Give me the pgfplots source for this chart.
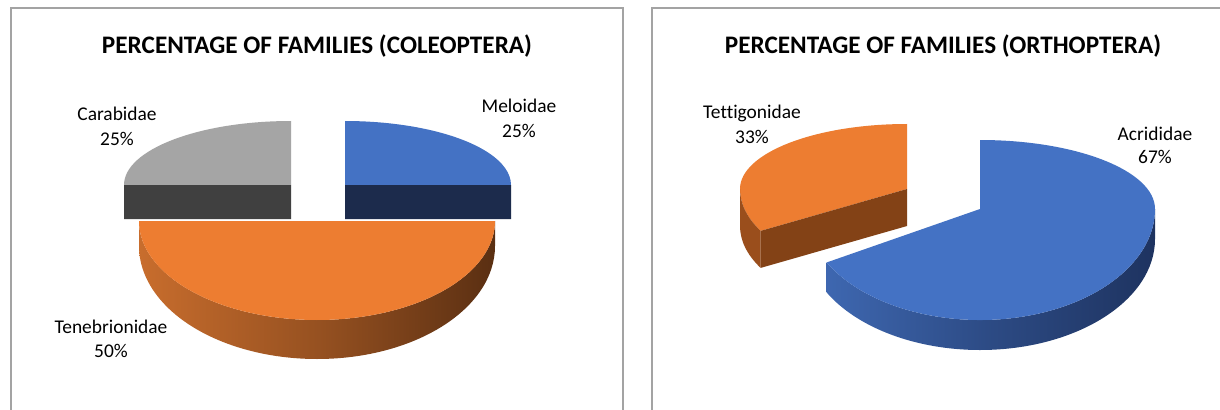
\documentclass[border=0pt]{standalone}
\usepackage{pgfplots}
\pgfplotsset{compat=1.18}
\usepackage{pgfplotstable}
\usepackage{fontspec}
\setmainfont{Carlito}[Ligatures={NoCommon}]

% ---------- data (percent shares) ----------
\pgfplotstableread{
family value
Meloidae 25
Tenebrionidae 50
Carabidae 25
}\coleoptera
\pgfplotstableread{
family value
Acrididae 67
Tettigonidae 33
}\orthoptera

\definecolor{pieblue}{HTML}{4472C4}
\definecolor{pieorange}{HTML}{ED7D31}
\definecolor{piegray}{HTML}{A5A5A5}
\definecolor{cutgray}{HTML}{404040}
\definecolor{cutnavy}{HTML}{1C2B4C}
\definecolor{cutbrown}{HTML}{834216}
\definecolor{sidebrown}{HTML}{9A4E1C}
\definecolor{orsideL}{HTML}{C86D2D}
\definecolor{orsideR}{HTML}{5A2F12}
\definecolor{blsideL}{HTML}{3E67B0}
\definecolor{blsideR}{HTML}{1E3360}
\definecolor{frame}{HTML}{A3A3A3}

\begin{document}
\begin{tikzpicture}
% angles (Excel style: first slice starts at 12 o'clock, clockwise)
\pgfplotstablegetelem{0}{value}\of\coleoptera \pgfmathsetmacro\cA{\pgfplotsretval}
\pgfplotstablegetelem{1}{value}\of\coleoptera \pgfmathsetmacro\cB{\pgfplotsretval}
\pgfplotstablegetelem{2}{value}\of\coleoptera \pgfmathsetmacro\cC{\pgfplotsretval}
\pgfplotstablegetelem{0}{value}\of\orthoptera \pgfmathsetmacro\oA{\pgfplotsretval}
\pgfplotstablegetelem{1}{value}\of\orthoptera \pgfmathsetmacro\oB{\pgfplotsretval}
\pgfmathsetmacro\melS{90-3.6*\cA}          % Meloidae: melS .. 90
\pgfmathsetmacro\tenS{90-3.6*(\cA+\cB)+360} % Tenebrionidae: tenS .. melS+360
\pgfmathsetmacro\tenE{\melS+360}
\pgfmathsetmacro\carS{\tenS}               % Carabidae: 90 .. carS
\pgfmathsetmacro\acrS{90-3.6*\oA+360}      % Acrididae: acrS .. 450 ; Tettigonidae: 90 .. acrS
\begin{axis}[x=1bp,y=1bp,xmin=0,xmax=1220,ymin=0,ymax=409,
  hide axis,scale only axis,clip=true]
\fill[white] (axis cs:0,0) rectangle (axis cs:1220,409);
% frames
\draw[frame,line width=1.4bp] (axis cs:11,-5) -- (axis cs:11,401) -- (axis cs:623,401) -- (axis cs:623,-5);
\draw[frame,line width=1.4bp] (axis cs:652,-5) -- (axis cs:652,401) -- (axis cs:1234,401) -- (axis cs:1234,-5);
% titles
\node[anchor=base,font=\bfseries\fontsize{25.3}{30}\selectfont] at (axis cs:317,356) {PERCENTAGE OF FAMILIES (COLEOPTERA)};
\node[anchor=base,font=\bfseries\fontsize{25.3}{30}\selectfont] at (axis cs:943,356) {PERCENTAGE OF FAMILIES (ORTHOPTERA)};

% ===== Coleoptera =====
% Carabidae (back left, exploded)
\fill[piegray] (axis cs:291,224) -- ++(\carS:167bp and 64bp) arc[start angle=\carS,end angle=90,x radius=167bp,y radius=64bp] -- cycle;
\fill[cutgray] (axis cs:291,224) -- ++(\carS:167bp and 64bp) -- ++(0,-34bp) -- (axis cs:291,190) -- cycle;
% Meloidae (back right, exploded)
\fill[pieblue] (axis cs:345,224) -- ++(\melS:166bp and 64bp) arc[start angle=\melS,end angle=90,x radius=166bp,y radius=64bp] -- cycle;
\fill[cutnavy] (axis cs:345,224) -- ++(\melS:166bp and 64bp) -- ++(0,-34bp) -- (axis cs:345,190) -- cycle;
% Tenebrionidae (front half)
\shade[left color=orsideL,right color=orsideR,middle color=orsideL!55!orsideR]
  (axis cs:317,188) ++(\tenS:178bp and 99bp) arc[start angle=\tenS,end angle=\tenE,x radius=178bp,y radius=99bp]
  -- ++(0,-25bp) arc[start angle=\tenE,end angle=\tenS,x radius=178bp,y radius=113bp] -- cycle;
\fill[pieorange] (axis cs:317,188) ++(\tenS:178bp and 99bp) arc[start angle=\tenS,end angle=\tenE,x radius=178bp,y radius=99bp] -- cycle;
% labels
\node[anchor=base,font=\fontsize{19.5}{23}\selectfont] at (axis cs:519,297) {Meloidae};
\node[anchor=base,font=\fontsize{19.5}{23}\selectfont] at (axis cs:519,272) {25\%};
\node[anchor=base,font=\fontsize{19.5}{23}\selectfont] at (axis cs:117,289) {Carabidae};
\node[anchor=base,font=\fontsize{19.5}{23}\selectfont] at (axis cs:117,264) {25\%};
\node[anchor=base,font=\fontsize{19.5}{23}\selectfont] at (axis cs:111,76) {Tenebrionidae};
\node[anchor=base,font=\fontsize{19.5}{23}\selectfont] at (axis cs:111,52) {50\%};

% ===== Orthoptera =====
% Tettigonidae (exploded, back left)
\fill[pieorange] (axis cs:907,220) -- ++(90:167bp and 65bp) arc[start angle=90,end angle=180,x radius=167bp,y radius=65bp]
  arc[start angle=180,end angle=\acrS,x radius=167bp,y radius=87bp] -- cycle;
\fill[sidebrown] (axis cs:907,220) ++(180:167bp and 87bp) arc[start angle=180,end angle=\acrS,x radius=167bp,y radius=87bp]
  -- ++(0,-37bp) arc[start angle=\acrS,end angle=180,x radius=167bp,y radius=87bp] -- cycle;
\fill[cutbrown] (axis cs:907,220) -- ++(\acrS:167bp and 87bp) -- ++(0,-37bp) -- (axis cs:907,183) -- cycle;
% Acrididae
\shade[left color=blsideL,right color=blsideR,middle color=blsideL!45!blsideR]
  (axis cs:980,200) ++(\acrS:175bp and 111bp) arc[start angle=\acrS,end angle=360,x radius=175bp,y radius=111bp]
  -- ++(0,-30bp) arc[start angle=360,end angle=\acrS,x radius=175bp,y radius=111bp] -- cycle;
\fill[pieblue] (axis cs:980,200) -- ++(\acrS:175bp and 111bp) arc[start angle=\acrS,end angle=360,x radius=175bp,y radius=111bp]
  arc[start angle=0,end angle=90,x radius=175bp,y radius=69bp] -- cycle;
% labels
\node[anchor=base,font=\fontsize{19.5}{23}\selectfont] at (axis cs:752,291) {Tettigonidae};
\node[anchor=base,font=\fontsize{19.5}{23}\selectfont] at (axis cs:752,266) {33\%};
\node[anchor=base,font=\fontsize{19.5}{23}\selectfont] at (axis cs:1155,269) {Acrididae};
\node[anchor=base,font=\fontsize{19.5}{23}\selectfont] at (axis cs:1155,246) {67\%};
\end{axis}
\end{tikzpicture}
\end{document}
